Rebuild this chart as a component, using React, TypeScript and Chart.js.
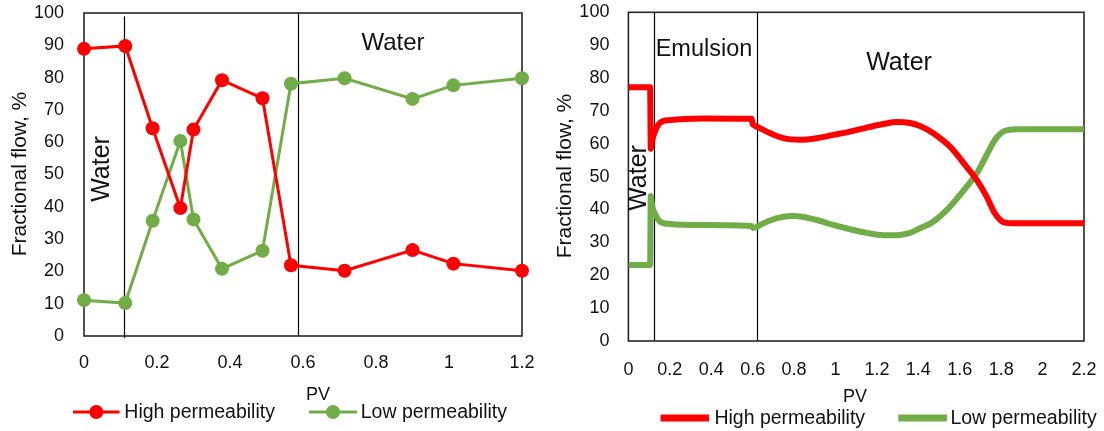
import React, { useEffect, useRef } from 'react';
import { Chart, registerables } from 'chart.js';

Chart.register(...registerables);

const FONT = 'Liberation Sans, Arial, sans-serif';
const RED = '#FF0000';
const GREEN = '#70AD47';

// ---- Left chart data ----
const leftPV = [0, 0.113, 0.188, 0.264, 0.3, 0.378, 0.489, 0.567, 0.714, 0.9, 1.012, 1.2];
const leftHigh = [88.9, 89.8, 64.3, 39.6, 63.9, 79.2, 73.6, 21.9, 20.2, 26.6, 22.4, 20.2];
const leftLow = [11.1, 10.2, 35.7, 60.4, 36.1, 20.8, 26.4, 78.1, 79.8, 73.4, 77.6, 79.8];
const leftBoundaries = [0.109, 0.587];
const leftBoundaryTop = [99, 100];

// ---- Right chart data ----
const rightHighPV = [0, 0.105, 0.108, 0.115, 0.128, 0.153, 0.2, 0.36, 0.595, 0.6, 0.611, 0.668, 0.748, 0.829, 0.909, 0.989, 1.07, 1.151, 1.231, 1.296, 1.36, 1.408, 1.472, 1.553, 1.633, 1.682, 1.73, 1.77, 1.81, 1.875, 2.2];
const rightHigh = [77.2, 77.2, 58.5, 61, 63.7, 66.4, 67.2, 67.7, 67.6, 66.0, 65.5, 63.7, 61.7, 61.2, 61.7, 62.7, 63.7, 64.9, 66.0, 66.6, 66.3, 65.4, 63.2, 59.1, 53.0, 49.0, 43.9, 38.8, 36.2, 35.8, 35.8];
const rightLowPV = [0, 0.105, 0.108, 0.115, 0.128, 0.153, 0.2, 0.36, 0.595, 0.6, 0.611, 0.668, 0.748, 0.8, 0.909, 0.989, 1.07, 1.151, 1.231, 1.296, 1.36, 1.408, 1.472, 1.553, 1.633, 1.682, 1.73, 1.77, 1.81, 1.875, 2.2];
const rightLow = [23.1, 23.1, 44.1, 41, 38.8, 36.3, 35.6, 35.3, 35.0, 34.4, 34.5, 36.3, 37.8, 38.0, 36.8, 35.3, 34.0, 32.9, 32.2, 32.2, 32.9, 34.3, 36.3, 40.9, 46.9, 51.0, 56.6, 61.2, 63.7, 64.4, 64.4];
const rightBoundaries = [0.122, 0.62];
const rightBoundaryTop = [100, 100];

const seriesNames = ['High permeability', 'Low permeability'];

type TextItem = { text: string; x: number; y: number; size: number; rot?: boolean; align?: CanvasTextAlign };
type LegendItem = { color: string; x1: number; x2: number; textX: number; marker: number; label: string };

function decorPlugin(opts: {
  boundaries: number[];
  boundaryTop: number[];
  texts: TextItem[];
  legend: LegendItem[];
  legendY: number;
  legendLine: number;
  legendSize: number;
}) {
  return {
    id: 'decor',
    beforeDatasetsDraw(chart: any) {
      const { ctx, chartArea } = chart;
      const xs = chart.scales.x;
      const ys = chart.scales.y;
      ctx.save();
      ctx.strokeStyle = '#000';
      ctx.lineWidth = 1.2;
      opts.boundaries.forEach((b, i) => {
        const px = Math.round(xs.getPixelForValue(b)) + 0.5;
        ctx.beginPath();
        ctx.moveTo(px, ys.getPixelForValue(opts.boundaryTop[i]));
        ctx.lineTo(px, chartArea.bottom + (opts.boundaryTop[i] < 100 ? 2 : 0));
        ctx.stroke();
      });
      ctx.strokeStyle = '#262626';
      ctx.lineWidth = 1.6;
      ctx.strokeRect(chartArea.left, chartArea.top, chartArea.right - chartArea.left, chartArea.bottom - chartArea.top);
      ctx.restore();
    },
    afterDraw(chart: any) {
      const { ctx } = chart;
      ctx.save();
      ctx.fillStyle = '#111';
      ctx.textBaseline = 'middle';
      opts.texts.forEach((t) => {
        ctx.font = `${t.size}px ${FONT}`;
        ctx.textAlign = t.align || 'center';
        if (t.rot) {
          ctx.save();
          ctx.translate(t.x, t.y);
          ctx.rotate(-Math.PI / 2);
          ctx.fillText(t.text, 0, 0);
          ctx.restore();
        } else {
          ctx.fillText(t.text, t.x, t.y);
        }
      });
      opts.legend.forEach((l) => {
        ctx.strokeStyle = l.color;
        ctx.lineWidth = opts.legendLine;
        ctx.beginPath();
        ctx.moveTo(l.x1, opts.legendY);
        ctx.lineTo(l.x2, opts.legendY);
        ctx.stroke();
        if (l.marker > 0) {
          ctx.fillStyle = l.color;
          ctx.beginPath();
          ctx.arc((l.x1 + l.x2) / 2, opts.legendY, l.marker, 0, Math.PI * 2);
          ctx.fill();
        }
        ctx.fillStyle = '#111';
        ctx.font = `${opts.legendSize}px ${FONT}`;
        ctx.textAlign = 'left';
        ctx.fillText(l.label, l.textX, opts.legendY + 1);
      });
      ctx.restore();
    },
  };
}

function fmtTick(v: number | string) {
  return String(Number(Number(v).toFixed(2)));
}

function makeOptions(p: { yW: number; xH: number; top: number; right: number; xMax: number; xPad: number; yPad: number }) {
  return {
    animation: false,
    responsive: false,
    maintainAspectRatio: false,
    layout: { padding: { left: 0, right: p.right, top: p.top, bottom: 0 } },
    plugins: { legend: { display: false }, tooltip: { enabled: false } },
    scales: {
      x: {
        type: 'linear',
        min: 0,
        max: p.xMax,
        grid: { display: false, drawTicks: false },
        border: { display: false },
        ticks: {
          stepSize: 0.2,
          padding: p.xPad,
          color: '#111',
          font: { size: 18, family: FONT },
          maxRotation: 0,
          autoSkip: false,
          callback: (v: number) => fmtTick(v),
        },
        afterFit(scale: any) {
          scale.height = p.xH;
          scale.paddingLeft = 0;
          scale.paddingRight = 0;
          scale.paddingTop = 0;
          scale.paddingBottom = 0;
        },
      },
      y: {
        min: 0,
        max: 100,
        grid: { display: false, drawTicks: false },
        border: { display: false },
        ticks: { stepSize: 10, padding: p.yPad, color: '#111', font: { size: 18, family: FONT } },
        afterFit(scale: any) {
          scale.width = p.yW;
          scale.paddingLeft = 0;
          scale.paddingRight = 0;
          scale.paddingTop = 0;
          scale.paddingBottom = 0;
        },
      },
    },
  };
}

function pts(xs: number[], ys: number[]) {
  return xs.map((x, i) => ({ x, y: ys[i] }));
}

function LeftChart() {
  const ref = useRef<HTMLCanvasElement>(null);
  useEffect(() => {
    const chart = new Chart(ref.current as HTMLCanvasElement, {
      type: 'line',
      data: {
        datasets: [
          {
            label: seriesNames[0],
            data: pts(leftPV, leftHigh),
            borderColor: RED,
            backgroundColor: RED,
            borderWidth: 3,
            pointRadius: 7,
            pointHoverRadius: 7,
            pointBorderWidth: 0,
            clip: false,
          },
          {
            label: seriesNames[1],
            data: pts(leftPV, leftLow),
            borderColor: GREEN,
            backgroundColor: GREEN,
            borderWidth: 3,
            pointRadius: 7,
            pointHoverRadius: 7,
            pointBorderWidth: 0,
            clip: false,
          },
        ],
      },
      options: makeOptions({ yW: 84, xH: 95, top: 13, right: 18, xMax: 1.2, xPad: 16, yPad: 20 }) as any,
      plugins: [
        decorPlugin({
          boundaries: leftBoundaries,
          boundaryTop: leftBoundaryTop,
          texts: [
            { text: 'Fractional flow, %', x: 20, y: 174, size: 21, rot: true },
            { text: 'Water', x: 102, y: 169, size: 25, rot: true },
            { text: 'Water', x: 393, y: 43, size: 24 },
            { text: 'PV', x: 318, y: 395, size: 18 },
          ],
          legend: [
            { color: RED, x1: 73, x2: 119.6, textX: 124.3, marker: 7, label: seriesNames[0] },
            { color: GREEN, x1: 309, x2: 357, textX: 360.7, marker: 7, label: seriesNames[1] },
          ],
          legendY: 412,
          legendLine: 3,
          legendSize: 19.5,
        }) as any,
      ],
    });
    return () => chart.destroy();
  }, []);
  return <canvas ref={ref} width={540} height={431} style={{ position: 'absolute', left: 0, top: 0, width: 540, height: 431 }} />;
}

function RightChart() {
  const ref = useRef<HTMLCanvasElement>(null);
  useEffect(() => {
    const chart = new Chart(ref.current as HTMLCanvasElement, {
      type: 'line',
      data: {
        datasets: [
          {
            label: seriesNames[0],
            data: pts(rightHighPV, rightHigh),
            borderColor: RED,
            backgroundColor: RED,
            borderWidth: 6,
            pointRadius: 0,
            cubicInterpolationMode: 'monotone',
          },
          {
            label: seriesNames[1],
            data: pts(rightLowPV, rightLow),
            borderColor: GREEN,
            backgroundColor: GREEN,
            borderWidth: 6,
            pointRadius: 0,
            cubicInterpolationMode: 'monotone',
          },
        ],
      },
      options: makeOptions({ yW: 88.4, xH: 90, top: 12.3, right: 20, xMax: 2.2, xPad: 18, yPad: 19 }) as any,
      plugins: [
        decorPlugin({
          boundaries: rightBoundaries,
          boundaryTop: rightBoundaryTop,
          texts: [
            { text: 'Fractional flow, %', x: 25, y: 176, size: 21, rot: true },
            { text: 'Emulsion', x: 164, y: 50, size: 23.5 },
            { text: 'Water', x: 359, y: 63, size: 25 },
            { text: 'Water', x: 99, y: 178, size: 25, rot: true },
            { text: 'PV', x: 315, y: 397, size: 18 },
          ],
          legend: [
            { color: RED, x1: 120.6, x2: 169, textX: 174.4, marker: 0, label: seriesNames[0] },
            { color: GREEN, x1: 358.3, x2: 406.9, textX: 410.4, marker: 0, label: seriesNames[1] },
          ],
          legendY: 418,
          legendLine: 7,
          legendSize: 19.5,
        }) as any,
      ],
    });
    return () => chart.destroy();
  }, []);
  return <canvas ref={ref} width={564} height={431} style={{ position: 'absolute', left: 540, top: 0, width: 564, height: 431 }} />;
}

export default function App() {
  return (
    <div style={{ position: 'absolute', left: 0, top: 0, width: 1104, height: 431, background: '#fff', overflow: 'hidden' }}>
      <LeftChart />
      <RightChart />
    </div>
  );
}
